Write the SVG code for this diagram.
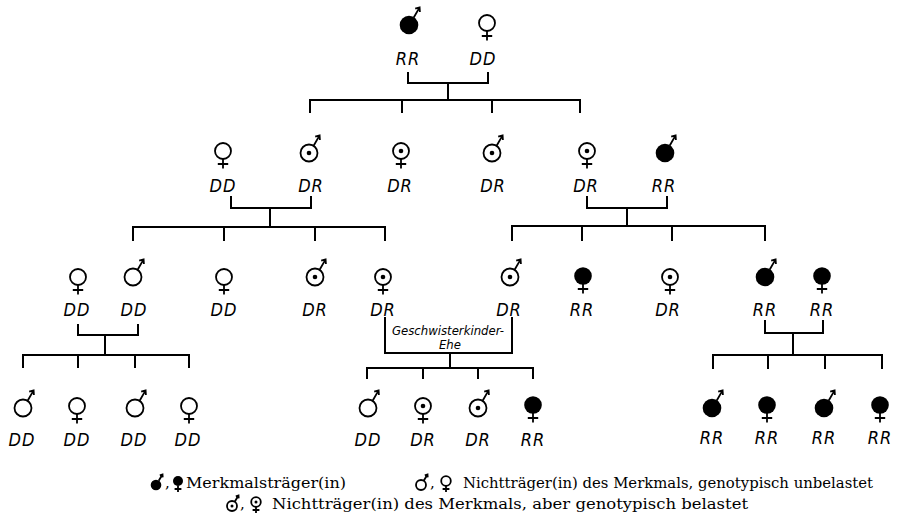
<svg xmlns="http://www.w3.org/2000/svg" xmlns:xlink="http://www.w3.org/1999/xlink" width="899" height="516" viewBox="0 0 899 516">
  <style>
    .bg { fill: #ffffff; }
    .ln { fill: none; stroke: #000; stroke-width: 2; stroke-linecap: square; }
    .sym { stroke: #000; stroke-width: 1.8; fill: none; }
    .fill { fill: #000; }
    .geno { font-family: "DejaVu Sans", "Liberation Sans", sans-serif; font-stretch: condensed; font-style: oblique; font-size: 18px; fill: #000; text-anchor: middle; letter-spacing: 1px; }
    .note { font-family: "DejaVu Sans", "Liberation Sans", sans-serif; font-stretch: condensed; font-style: oblique; font-size: 13px; fill: #000; text-anchor: middle; }
    .legend { font-family: "DejaVu Serif", "Liberation Serif", serif; font-size: 15px; fill: #000; }
  </style>
  <defs>
    <!-- male: circle with arrow to upper right -->
    <g id="m-open">
      <circle class="sym" cx="0" cy="0" r="8.5"/>
      <path class="sym" d="M4.6,-7.2 L10.6,-17.6 M6.2,-16.4 L10.6,-17.6 L10.9,-13"/>
    </g>
    <g id="m-dot">
      <use xlink:href="#m-open"/>
      <circle class="fill" cx="0" cy="0" r="2.3"/>
    </g>
    <g id="m-fill">
      <circle class="fill" cx="0" cy="0" r="9.3"/>
      <path class="sym" d="M4.6,-7.2 L10.6,-17.6 M6.2,-16.4 L10.6,-17.6 L10.9,-13"/>
    </g>
    <!-- female: circle with cross below -->
    <g id="f-open">
      <circle class="sym" cx="0" cy="0" r="8"/>
      <path class="sym" d="M0,8 V17.5 M-5.2,13 H5.2"/>
    </g>
    <g id="f-dot">
      <use xlink:href="#f-open"/>
      <circle class="fill" cx="0" cy="0" r="2.3"/>
    </g>
    <g id="f-fill">
      <circle class="fill" cx="0" cy="0" r="8.8"/>
      <path class="sym" d="M0,8 V17.5 M-5.2,13 H5.2"/>
    </g>
    <!-- small legend glyphs -->
    <g id="lm">
      <circle class="sym" cx="0" cy="0" r="5" stroke-width="1.3"/>
      <path class="sym" stroke-width="1.3" d="M2.7,-4.2 L6.5,-10.5 M3.8,-9.6 L6.5,-10.5 L6.7,-7.6"/>
    </g>
    <g id="lf">
      <circle class="sym" cx="0" cy="0" r="4.8" stroke-width="1.3"/>
      <path class="sym" stroke-width="1.3" d="M0,4.8 V11 M-3.4,8 H3.4"/>
    </g>
  </defs>

  <rect class="bg" x="0" y="0" width="899" height="516"/>

  <!-- connectors -->
  <g id="connectors">
    <!-- generation I -->
    <path class="ln" d="M408,73 V83 H488 V73 M448,83 V100 M310,112 V100 H580 V112 M402,100 V112 M492,100 V112"/>
    <!-- generation II, left family -->
    <path class="ln" d="M231,197 V208 H311 V197 M270,208 V227 M133,240 V227 H385 V240 M224,227 V240 M315,227 V240"/>
    <!-- generation II, right family -->
    <path class="ln" d="M587,197 V208 H667 V197 M627,208 V226 M512,240 V226 H765 V240 M582,226 V240 M672,226 V240"/>
    <!-- generation III, left family -->
    <path class="ln" d="M78,325 V335 H138 V325 M105,335 V355 M23,367 V355 H189 V367 M78,355 V367 M135,355 V367"/>
    <!-- generation III, cousin marriage -->
    <path class="ln" d="M385,318 V353 H512 V318 M450,353 V368 M367,378 V368 H533 V378 M423,368 V378 M478,368 V378"/>
    <!-- generation III, right family -->
    <path class="ln" d="M765,321 V333 H823 V321 M793,333 V355 M713,368 V355 H882 V368 M768,355 V368 M825,355 V368"/>
  </g>

  <!-- generation I -->
  <g id="g1-father"><use xlink:href="#m-fill" x="409" y="25"/><text class="geno" x="408" y="65">RR</text></g>
  <g id="g1-mother"><use xlink:href="#f-open" x="487" y="23"/><text class="geno" x="483" y="65">DD</text></g>

  <!-- generation II -->
  <g id="g2-a"><use xlink:href="#f-open" x="223" y="151"/><text class="geno" x="223" y="192">DD</text></g>
  <g id="g2-b"><use xlink:href="#m-dot" x="309" y="153"/><text class="geno" x="311" y="192">DR</text></g>
  <g id="g2-c"><use xlink:href="#f-dot" x="401" y="151"/><text class="geno" x="400" y="192">DR</text></g>
  <g id="g2-d"><use xlink:href="#m-dot" x="492" y="153"/><text class="geno" x="493" y="192">DR</text></g>
  <g id="g2-e"><use xlink:href="#f-dot" x="587" y="151"/><text class="geno" x="586" y="192">DR</text></g>
  <g id="g2-f"><use xlink:href="#m-fill" x="665" y="153"/><text class="geno" x="664" y="192">RR</text></g>

  <!-- generation III -->
  <g id="g3-a"><use xlink:href="#f-open" x="78" y="277"/><text class="geno" x="77" y="316">DD</text></g>
  <g id="g3-b"><use xlink:href="#m-open" x="133" y="277"/><text class="geno" x="134" y="316">DD</text></g>
  <g id="g3-c"><use xlink:href="#f-open" x="224" y="277"/><text class="geno" x="224" y="316">DD</text></g>
  <g id="g3-d"><use xlink:href="#m-dot" x="315" y="277"/><text class="geno" x="315" y="316">DR</text></g>
  <g id="g3-e"><use xlink:href="#f-dot" x="383" y="277"/><text class="geno" x="383" y="316">DR</text></g>
  <g id="g3-f"><use xlink:href="#m-dot" x="510" y="277"/><text class="geno" x="509" y="316">DR</text></g>
  <g id="g3-g"><use xlink:href="#f-fill" x="583" y="276"/><text class="geno" x="582" y="316">RR</text></g>
  <g id="g3-h"><use xlink:href="#f-dot" x="670" y="277"/><text class="geno" x="668" y="316">DR</text></g>
  <g id="g3-i"><use xlink:href="#m-fill" x="765" y="277"/><text class="geno" x="765" y="316">RR</text></g>
  <g id="g3-j"><use xlink:href="#f-fill" x="822" y="276"/><text class="geno" x="822" y="316">RR</text></g>

  <g id="cousin-note">
    <text class="note" x="448" y="335">Geschwisterkinder-</text>
    <text class="note" x="450" y="349">Ehe</text>
  </g>

  <!-- generation IV -->
  <g id="g4-a"><use xlink:href="#m-open" x="23" y="408"/><text class="geno" x="22" y="446">DD</text></g>
  <g id="g4-b"><use xlink:href="#f-open" x="77" y="406"/><text class="geno" x="77" y="446">DD</text></g>
  <g id="g4-c"><use xlink:href="#m-open" x="135" y="408"/><text class="geno" x="134" y="446">DD</text></g>
  <g id="g4-d"><use xlink:href="#f-open" x="189" y="406"/><text class="geno" x="188" y="446">DD</text></g>
  <g id="g4-e"><use xlink:href="#m-open" x="368" y="408"/><text class="geno" x="368" y="446">DD</text></g>
  <g id="g4-f"><use xlink:href="#f-dot" x="423" y="406"/><text class="geno" x="423" y="446">DR</text></g>
  <g id="g4-g"><use xlink:href="#m-dot" x="478" y="408"/><text class="geno" x="478" y="446">DR</text></g>
  <g id="g4-h"><use xlink:href="#f-fill" x="533" y="405"/><text class="geno" x="533" y="446">RR</text></g>
  <g id="g4-i"><use xlink:href="#m-fill" x="712" y="408"/><text class="geno" x="712" y="444">RR</text></g>
  <g id="g4-j"><use xlink:href="#f-fill" x="767" y="405"/><text class="geno" x="767" y="444">RR</text></g>
  <g id="g4-k"><use xlink:href="#m-fill" x="824" y="408"/><text class="geno" x="824" y="444">RR</text></g>
  <g id="g4-l"><use xlink:href="#f-fill" x="880" y="405"/><text class="geno" x="880" y="444">RR</text></g>

  <!-- key -->
  <g id="legend">
    <circle class="fill" cx="156" cy="485" r="5.3"/>
    <path class="sym" stroke-width="1.3" d="M158.7,480.8 L162.5,474.5 M159.8,475.4 L162.5,474.5 L162.7,477.4"/>
    <text class="legend" x="165" y="488">,</text>
    <circle class="fill" cx="178" cy="481" r="5"/>
    <path class="sym" stroke-width="1.3" d="M178,485.8 V492 M174.6,489 H181.4"/>
    <text class="legend" x="186" y="488" textLength="160" lengthAdjust="spacingAndGlyphs">Merkmalsträger(in)</text>

    <use xlink:href="#lm" x="421" y="485"/>
    <text class="legend" x="430" y="488">,</text>
    <use xlink:href="#lf" x="446" y="481"/>
    <text class="legend" x="463" y="488" textLength="410" lengthAdjust="spacingAndGlyphs">Nichtträger(in) des Merkmals, genotypisch unbelastet</text>

    <use xlink:href="#lm" x="232" y="506"/>
    <circle class="fill" cx="232" cy="506" r="1.5"/>
    <text class="legend" x="240" y="509">,</text>
    <use xlink:href="#lf" x="256" y="502"/>
    <circle class="fill" cx="256" cy="502" r="1.5"/>
    <text class="legend" x="272" y="509" textLength="476" lengthAdjust="spacingAndGlyphs">Nichtträger(in) des Merkmals, aber genotypisch belastet</text>
  </g>
</svg>
